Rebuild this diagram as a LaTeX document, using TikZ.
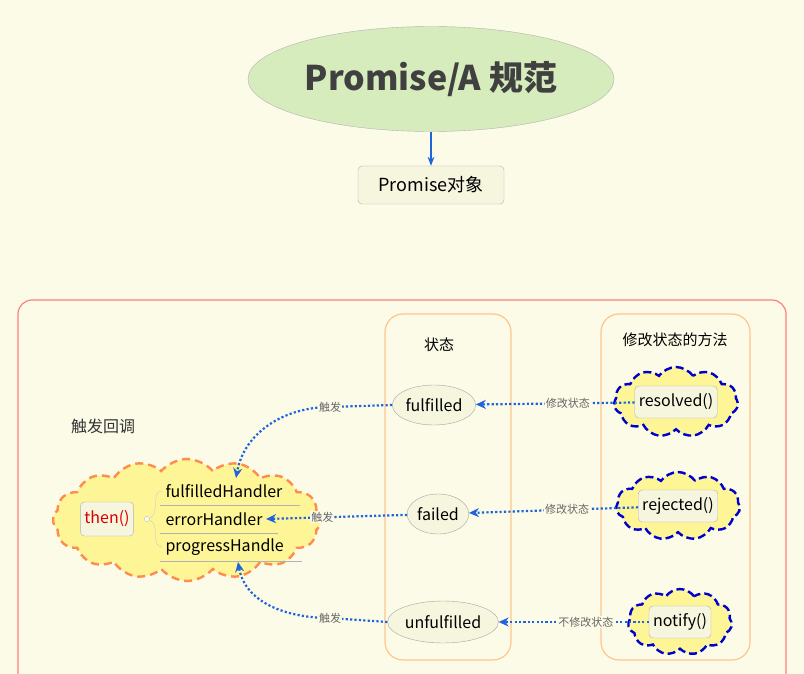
\documentclass[tikz,border=0pt]{standalone}
\usepackage{fontspec}
\setmainfont{Noto Sans CJK SC}
\usetikzlibrary{shapes.symbols,shapes.geometric,arrows.meta}
\definecolor{bgpaper}{RGB}{252,251,232}
\definecolor{cloudfill}{RGB}{253,245,150}
\definecolor{topicfill}{RGB}{246,245,222}
\definecolor{titlefill}{RGB}{214,236,188}
\definecolor{dotblue}{RGB}{30,100,220}
\tikzset{
  topic/.style={draw=gray!60, fill=topicfill, rounded corners=4pt, inner sep=4pt, font=\fontsize{16}{19}\selectfont},
  state/.style={draw=gray!70, fill=topicfill, ellipse, inner sep=1pt, font=\fontsize{16}{19}\selectfont},
  column/.style={draw=orange!45, rounded corners=18pt, line width=1.2pt},
  trigger/.style={draw=dotblue, dash pattern=on 2.2pt off 2.2pt, line width=2.2pt, -{Stealth[length=10pt,width=9pt]}},
  edgelabel/.style={fill=bgpaper, inner sep=1pt, text=gray!80!black, font=\fontsize{11}{13}\selectfont},
  redcloud/.style={cloud, cloud puffs=16, cloud puff arc=100, draw=orange!70!red!70, dash pattern=on 8pt off 5pt, line width=2.4pt, fill=cloudfill, aspect=2.2},
  bluecloud/.style={cloud, cloud puffs=11, cloud puff arc=110, draw=blue!80!black, dash pattern=on 8pt off 4pt, line width=2.4pt, fill=cloudfill, aspect=1.8},
}
\begin{document}
\begin{tikzpicture}[x=1pt, y=-1pt]
\useasboundingbox[fill=bgpaper] (0,0) rectangle (804,674);
% title
\node[ellipse, draw=gray!60, fill=titlefill, minimum width=340, minimum height=105, font=\fontsize{34}{40}\selectfont\bfseries, text=black!75] (title) at (431,79) {Promise/A 规范};
\node[topic, minimum width=146, minimum height=38, font=\fontsize{18}{21}\selectfont] (promise) at (431,185) {Promise对象};
\draw[dotblue, line width=2pt, -{Stealth[length=9pt]}] (title) -- (promise);
% frames
\draw[draw=red!50, rounded corners=14pt, line width=1.2pt] (18,300) -- (786,300) -- (786,690) -- (18,690) -- cycle;
\draw[column] (385,314) rectangle (511,660);
\draw[column] (601,314) rectangle (750,660);
\node[font=\fontsize{15}{18}\selectfont] (statetitle) at (439,345) {状态};
\node[font=\fontsize{15}{18}\selectfont] (methodtitle) at (675,340) {修改状态的方法};
\node[font=\fontsize{16}{19}\selectfont, text=black!80] (cbtitle) at (103,426) {触发回调};
% callback cloud
\node[redcloud, minimum width=268, minimum height=122] (cbcloud) at (187,520) {};
\node[topic, text=red!85!black, minimum height=34] (then) at (107,519) {then()};
\node[circle, draw=gray!50, fill=white, inner sep=1.8pt] (knob) at (147,519) {};
\node[anchor=west, font=\fontsize{16}{19}\selectfont] (fh) at (162,491) {fulfilledHandler};
\node[anchor=west, font=\fontsize{16}{19}\selectfont] (eh) at (162,519) {errorHandler};
\node[anchor=west, font=\fontsize{16}{19}\selectfont] (ph) at (162,547) {progressHandle};
\draw[gray!60] (160,505) -- (300,505);
\draw[gray!60] (160,533) -- (278,533);
\draw[gray!60] (160,561) -- (302,561);
\draw[gray!40] (knob) to[out=20,in=180] (fh.west);
\draw[gray!40] (knob) to[out=-20,in=180] (ph.west);
% states
\node[state, minimum width=72, minimum height=40] (fulfilled) at (434,405) {fulfilled};
\node[state, minimum width=60, minimum height=40] (failed) at (438,514) {failed};
\node[state, minimum width=104, minimum height=42] (unfulfilled) at (443,622) {unfulfilled};
% methods
\node[bluecloud, minimum width=124, minimum height=70] (rescloud) at (676,402) {};
\node[topic, minimum height=32] (resolved) at (676,402) {resolved()};
\node[bluecloud, minimum width=124, minimum height=68] (rejcloud) at (678,506) {};
\node[topic, minimum height=32] (rejected) at (678,506) {rejected()};
\node[bluecloud, minimum width=104, minimum height=66] (notcloud) at (680,622) {};
\node[topic, minimum height=32] (notify) at (680,622) {notify()};
% connectors
\draw[trigger] (resolved) -- node[edgelabel, pos=0.42] (l1) {修改状态} (fulfilled);
\draw[trigger] (rejected) -- node[edgelabel, pos=0.42] (l2) {修改状态} (failed);
\draw[trigger] (notify) -- node[edgelabel, pos=0.42] (l3) {不修改状态} (unfulfilled);
\draw[trigger] (fulfilled.west) -- (330,407) node[edgelabel] (t1) {触发} to[out=180,in=80] (236,478);
\draw[trigger] (failed) -- node[edgelabel, pos=0.6] (t2) {触发} (eh.east);
\draw[trigger] (unfulfilled.west) -- (330,618) node[edgelabel] (t3) {触发} to[out=180,in=-80] (238,562);
\end{tikzpicture}
\end{document}
